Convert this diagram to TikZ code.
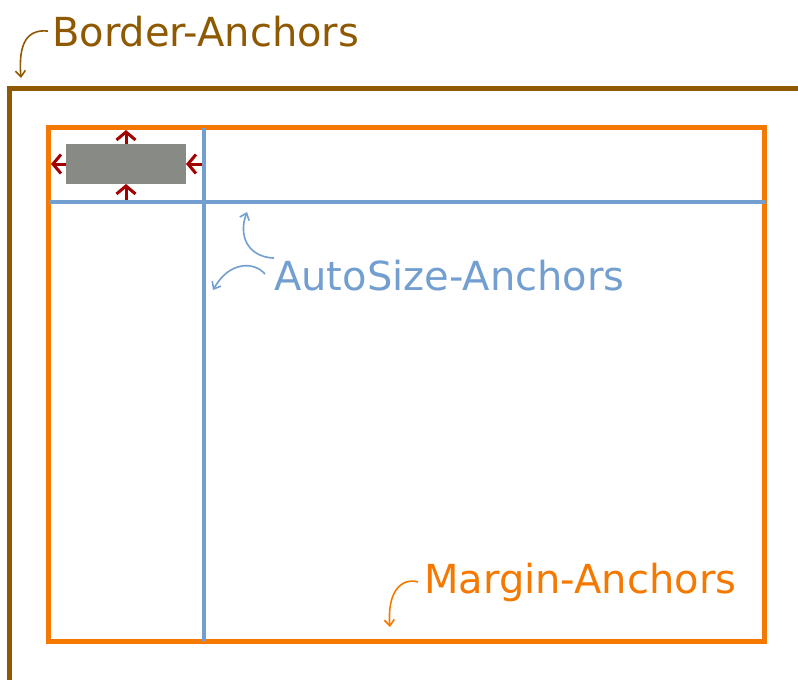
\documentclass[tikz,border=0pt]{standalone}
\usepackage{fontspec}
\setmainfont{DejaVu Sans}
\usepackage{tikz}
\usetikzlibrary{arrows.meta}
\definecolor{borderbrown}{HTML}{8F5902}
\definecolor{marginorange}{HTML}{F57900}
\definecolor{autoblue}{HTML}{729FCF}
\definecolor{pushred}{HTML}{A40000}
\definecolor{ctrlgray}{HTML}{888A85}

\begin{document}
\begin{tikzpicture}[x=1pt, y=-1pt]
    \tikzstyle{caption} = [font=\fontsize{40}{48}\selectfont, inner sep=0pt, anchor=base west];
    \tikzstyle{hint} = [draw, line width=1.6pt, -{Straight Barb[length=6pt, width=10pt]}];
    \tikzstyle{push} = [draw, pushred, line width=3pt, -{Straight Barb[length=8pt, width=19pt]}];
    \useasboundingbox (0,0) rectangle (798,680);
    \clip (0,0) rectangle (798,680);
    \coordinate (bnw) at (9,88);
    \draw[borderbrown, line width=5pt] (9,720) -- (bnw) -- (830,88);
    \node[draw=marginorange, line width=5pt, minimum width=716pt, minimum height=513.5pt,
        inner sep=0pt, outer sep=0pt, anchor=north west] (margin) at (48.5,127.5) {};
    \path (margin.north west) ++(155,0) coordinate (vtop);
    \path (margin.south west) ++(155,0) coordinate (vbot);
    \path (margin.north west) ++(0,74) coordinate (hleft);
    \path (margin.north east) ++(0,74) coordinate (hright);
    \draw[autoblue, line width=4pt] (vtop) -- (vbot);
    \draw[autoblue, line width=4pt] (hleft) -- (hright);
    \node[fill=ctrlgray, minimum width=120pt, minimum height=40pt, inner sep=0pt, outer sep=0pt] (ctrl) at (126,164) {};
    \node[caption, text=borderbrown] (bordertext) at (52,46) {Border-Anchors};
    \node[caption, text=autoblue] (autotext) at (274,290) {AutoSize-Anchors};
    \node[caption, text=marginorange] (margintext) at (424,593) {Margin-Anchors};
    \path[push, shorten >=2.5pt] (ctrl.north) -- (ctrl.north |- margin.north);
    \path[push, shorten >=2.5pt] (ctrl.west) -- (ctrl.west -| margin.west);
    \path[push, shorten <=2pt] (ctrl.south |- hleft) -- (ctrl.south);
    \path[push, shorten <=2pt] (ctrl.east -| vtop) -- (ctrl.east);
    \path[hint, borderbrown] ([xshift=-4pt]bordertext.west) .. controls (28,29) and (18,42) .. (21,78);
    \path[hint, autoblue] ([yshift=17pt]autotext.west) .. controls (248,257) and (238,236) .. (247,212);
    \path[hint, autoblue] ([shift={(-9pt,1pt)}]autotext.west) .. controls (255,262) and (230,260) .. (213,290);
    \path[hint, marginorange] ([xshift=-6pt]margintext.west) .. controls (400,577) and (387,594) .. (390,627);
\end{tikzpicture}
\end{document}
